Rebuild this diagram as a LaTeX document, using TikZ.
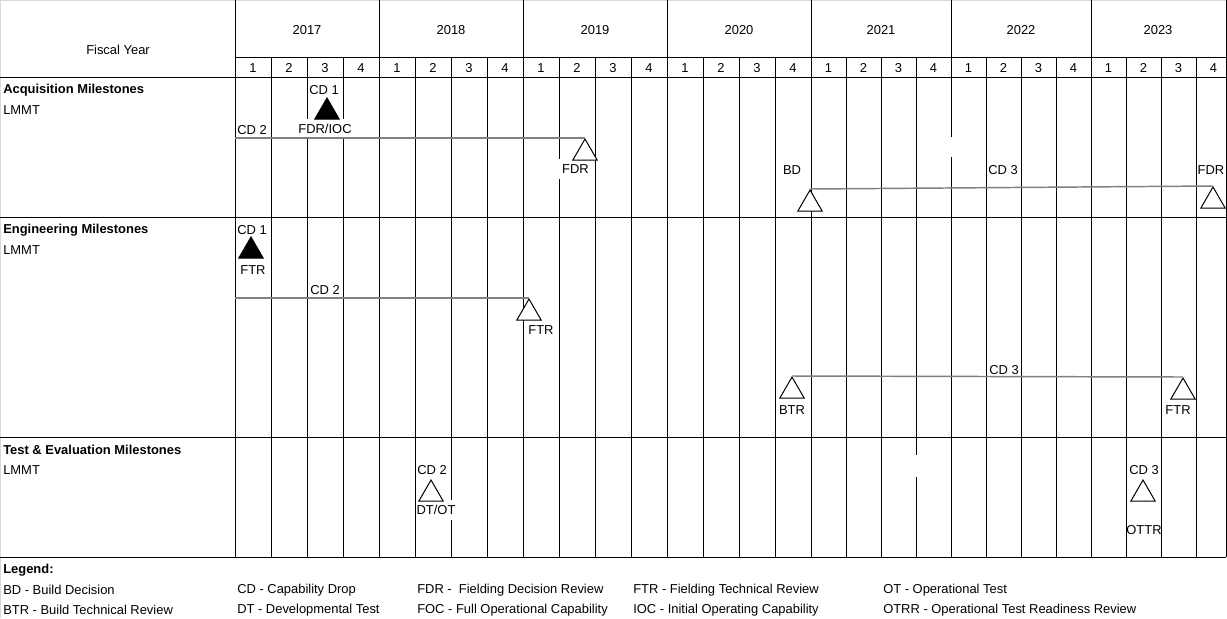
\documentclass[tikz,border=0pt]{standalone}
\usepackage{fontspec}
\setmainfont{Liberation Sans}
\usetikzlibrary{shapes.geometric}

\begin{document}
\begin{tikzpicture}[
  x=0.75pt, y=-0.75pt,
  lbl/.style={font=\fontsize{9.7pt}{12pt}\selectfont, inner sep=1pt, yshift=-0.6pt},
  lblw/.style={lbl, fill=white, minimum height=15pt},
  rowhead/.style={font=\fontsize{9.7pt}{12pt}\selectfont\bfseries, anchor=west, inner sep=0pt, yshift=-0.6pt},
  rowsub/.style={font=\fontsize{9.7pt}{12pt}\selectfont, anchor=west, inner sep=0pt, yshift=-0.6pt},
  gridline/.style={line width=0.75pt},
  cdline/.style={draw=gray, line width=1.1pt},
  ms/.style={draw, regular polygon, regular polygon sides=3, minimum size=21pt,
             inner sep=0pt, anchor=corner 1, line width=0.75pt},
  msopen/.style={ms, fill=white},
  msdone/.style={ms, fill=black}
]
\useasboundingbox (0,0) rectangle (1227,618);
\draw[black!15, line width=0.75pt] (0.5,618) -- (0.5,0.5) -- (1227,0.5);

% years and quarters
\foreach \yr/\xs/\w/\xc in {2017/235/36/307, 2018/379/36/451, 2019/523/36/595,
    2020/667/36/739, 2021/811/35/881, 2022/951/35/1021, 2023/1091/35/1158}{
  \draw[gridline] (\xs,0) -- (\xs,557);
  \node[lbl] (y\yr) at (\xc,29) {\yr};
  \foreach \q in {1,2,3}
    \draw[gridline] (\xs+\q*\w,57) -- (\xs+\q*\w,557);
  \foreach \q in {1,...,4}
    \node[lbl] (q\yr\q) at (\xs+\q*\w-\w/2,67) {\q};
}
\draw[gridline] (1226,0) -- (1226,557);
\draw[gridline] (235,57) -- (1226,57);
\foreach \y in {77,217,437,557}
  \draw[gridline] (0,\y) -- (1226,\y);
\fill[white] (948,137) rectangle (954,157);
\fill[white] (913,455) rectangle (919,477);

\node[lbl] (fy) at (118,49) {Fiscal Year};

% row titles
\node[rowhead] (acq) at (3,89) {Acquisition Milestones};
\node[rowsub] (acqsys) at (3,109) {LMMT};
\node[rowhead] (eng) at (3,229) {Engineering Milestones};
\node[rowsub] (engsys) at (3,249) {LMMT};
\node[rowhead] (te) at (3,449) {Test \& Evaluation Milestones};
\node[rowsub] (tesys) at (3,469) {LMMT};

% acquisition
\node[lbl] (acqCDoneL) at (324,89) {CD 1};
\node[lblw] (acqIOCL) at (325,128) {FDR/IOC};
\node[lbl] (acqCDtwoL) at (252,129) {CD 2};
\node[lblw, minimum width=27pt] (acqFDRL) at (575.5,168) {FDR};
\node[lbl] (acqBDL) at (792,169) {BD};
\node[lbl] (acqCDthreeL) at (1003,169) {CD 3};
\node[lbl] (acqFDRbL) at (1211,169) {FDR};
\coordinate (acqA) at (235,138);
\node[msdone] (acqCDone) at (327,97) {};
\node[msopen] (acqFDR) at (585,138) {};
\node[msopen] (acqBD) at (810,189) {};
\node[msopen] (acqFDRb) at (1213,186) {};
\draw[cdline] (acqA) -- (acqFDR.corner 1);
\draw[cdline] (acqBD.corner 1) -- (acqFDRb.corner 1);

% engineering
\node[lbl] (engCDoneL) at (252,229) {CD 1};
\node[lbl] (engFTRaL) at (253,269) {FTR};
\node[lbl] (engCDtwoL) at (325,289) {CD 2};
\node[lbl] (engFTRL) at (541,329) {FTR};
\node[lbl] (engCDthreeL) at (1004,369) {CD 3};
\node[lbl] (engBTRL) at (792,409) {BTR};
\node[lbl] (engFTRbL) at (1178,409) {FTR};
\coordinate (engA) at (235,298);
\node[msdone] (engCDone) at (251,236) {};
\node[msopen] (engFTR) at (529,298) {};
\node[msopen] (engBTR) at (792,376) {};
\node[msopen] (engFTRb) at (1183,377) {};
\draw[cdline] (engA) -- (engFTR.corner 1);
\draw[cdline] (engBTR.corner 1) -- (engFTRb.corner 1);

% test & evaluation
\node[lbl] (teCDtwoL) at (432,469) {CD 2};
\node[lblw, inner xsep=0pt] (teDTL) at (436,509) {DT/OT};
\node[lbl] (teCDthreeL) at (1144,469) {CD 3};
\node[lbl] (teOTL) at (1144,529) {OTTR};
\node[msopen] (teDT) at (431,479) {};
\node[msopen] (teOT) at (1143,479) {};

% legend
\node[rowhead] (leg) at (3,569) {Legend:};
\foreach \x/\y/\t [count=\i] in {3/589/BD - Build Decision, 3/609/BTR - Build Technical Review,
    237/589/CD - Capability Drop, 237/609/DT - Developmental Test,
    417/589/FDR - \ Fielding Decision Review, 417/609/FOC - Full Operational Capability,
    633/589/FTR - Fielding Technical Review, 633/609/IOC - Initial Operating Capability,
    883/589/OT - Operational Test, 883/609/OTRR - Operational Test Readiness Review}
  \node[rowsub] (leg\i) at (\x,\y) {\t};
\end{tikzpicture}
\end{document}
